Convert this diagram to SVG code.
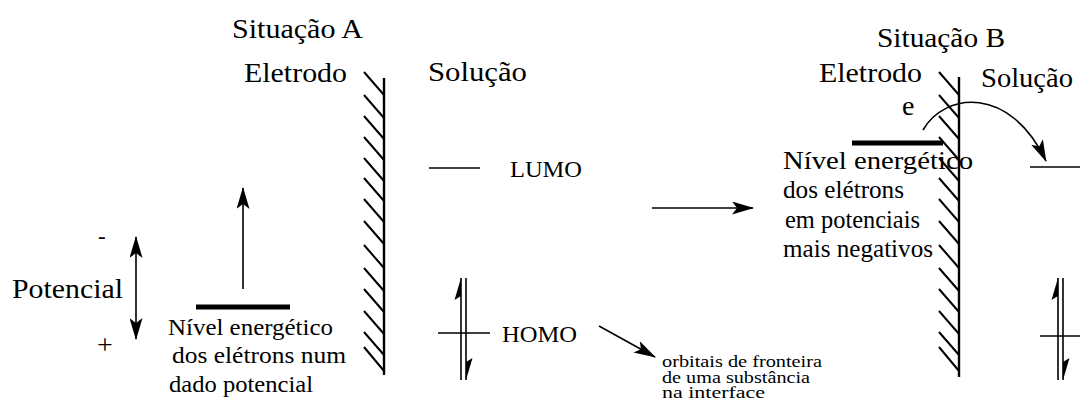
<svg xmlns="http://www.w3.org/2000/svg" width="1080" height="414" viewBox="0 0 1080 414">
<style>
text{font-family:"Liberation Serif","Times New Roman","DejaVu Serif",serif;fill:#000}
.big{font-size:28px}
.mid{font-size:23px}
.nb{font-size:26px}
.sm{font-size:16px}
.ln{stroke:#000;stroke-width:1.6;fill:none}
.bar{stroke:#000;stroke-width:5;fill:none}
.wall{stroke:#000;stroke-width:2.4;fill:none}
.hatch{stroke:#000;stroke-width:2;fill:none}
.hd{fill:#000;stroke:none}
</style>
<defs>
<marker id="ah" viewBox="0 0 22 13" refX="21" refY="6.5" markerWidth="22" markerHeight="13" markerUnits="userSpaceOnUse" orient="auto-start-reverse">
<path d="M0,0 L22,6.5 L0,13 L5,6.5 Z" class="hd"/>
</marker>
<path id="hatchset" d="M-20,72 l20,23 M-20,95 l20,23 M-20,116 l20,23 M-20,137 l20,23 M-20,158 l20,23 M-20,178 l20,23 M-20,199 l20,23 M-20,221 l20,23 M-20,245 l20,23 M-20,268 l20,23 M-20,289 l20,23 M-20,311 l20,23 M-20,332 l20,23 M-20,347 l20,24"/>
<g id="homo">
<line x1="-2.5" y1="0" x2="-2.5" y2="102" class="ln"/>
<line x1="2.5" y1="0" x2="2.5" y2="102" class="ln"/>
<polygon points="-2.5,0 -9,22 -2.5,18" class="hd"/>
<polygon points="2.5,102 9,80 2.5,84" class="hd"/>
</g>
</defs>

<g id="situacao-a">
<text class="big" x="232" y="38" textLength="131" lengthAdjust="spacingAndGlyphs">Situação A</text>
<text class="big" x="244" y="82" textLength="103" lengthAdjust="spacingAndGlyphs">Eletrodo</text>
<text class="big" x="428" y="81" textLength="99" lengthAdjust="spacingAndGlyphs">Solução</text>
</g>

<g id="eletrodo-a">
<line x1="384" y1="78" x2="384" y2="375" class="wall"/>
<use href="#hatchset" transform="translate(384,0)" class="hatch"/>
</g>

<g id="potencial">
<text class="big" x="12" y="298" textLength="111" lengthAdjust="spacingAndGlyphs">Potencial</text>
<text class="mid" x="98" y="244">-</text>
<text class="big" x="97" y="354">+</text>
</g>

<g id="nivel-a">
<line x1="196" y1="307" x2="290" y2="307" class="bar"/>
<text class="mid" x="168" y="335" textLength="165" lengthAdjust="spacingAndGlyphs">Nível energético</text>
<text class="mid" x="172" y="363" textLength="174" lengthAdjust="spacingAndGlyphs">dos elétrons num</text>
<text class="mid" x="169" y="392" textLength="144" lengthAdjust="spacingAndGlyphs">dado potencial</text>
</g>

<g id="lumo-a">
<line x1="429" y1="168" x2="480" y2="168" class="ln"/>
<text class="mid" x="510" y="177" textLength="72" lengthAdjust="spacingAndGlyphs">LUMO</text>
</g>

<g id="homo-a">
<use href="#homo" transform="translate(463.5,278)"/>
<line x1="438" y1="333" x2="490" y2="333" class="ln"/>
<text class="mid" x="502" y="342" textLength="75" lengthAdjust="spacingAndGlyphs">HOMO</text>
</g>

<g id="orbitais">
<text class="sm" x="662" y="367" textLength="160" lengthAdjust="spacingAndGlyphs">orbitais de fronteira</text>
<text class="sm" x="662" y="383" textLength="148" lengthAdjust="spacingAndGlyphs">de uma substância</text>
<text class="sm" x="662" y="398" textLength="103" lengthAdjust="spacingAndGlyphs">na interface</text>
</g>

<g id="situacao-b">
<text class="big" x="877" y="47" textLength="128" lengthAdjust="spacingAndGlyphs">Situação B</text>
<text class="big" x="819" y="82" textLength="103" lengthAdjust="spacingAndGlyphs">Eletrodo</text>
<text class="big" x="981" y="87" textLength="92" lengthAdjust="spacingAndGlyphs">Solução</text>
<text class="big" x="902" y="115">e</text>
</g>

<g id="eletrodo-b">
<line x1="959" y1="77" x2="959" y2="377" class="wall"/>
<use href="#hatchset" transform="translate(959,0)" class="hatch"/>
</g>

<g id="nivel-b">
<line x1="852" y1="143" x2="943" y2="143" class="bar"/>
<text class="nb" x="783" y="169" textLength="190" lengthAdjust="spacingAndGlyphs">Nível energético</text>
<text class="nb" x="783" y="198" textLength="121" lengthAdjust="spacingAndGlyphs">dos elétrons</text>
<text class="nb" x="785" y="228" textLength="135" lengthAdjust="spacingAndGlyphs">em potenciais</text>
<text class="nb" x="783" y="257" textLength="150" lengthAdjust="spacingAndGlyphs">mais negativos</text>
</g>

<g id="lumo-b">
<line x1="1030" y1="167" x2="1080" y2="167" class="ln"/>
</g>

<g id="homo-b">
<use href="#homo" transform="translate(1060.5,278)"/>
<line x1="1040" y1="336" x2="1080" y2="336" class="ln"/>
</g>

<g id="connectors">
<line x1="136" y1="237" x2="136" y2="339" class="ln" marker-start="url(#ah)" marker-end="url(#ah)"/>
<line x1="243" y1="289" x2="243" y2="188" class="ln" marker-end="url(#ah)"/>
<line x1="652" y1="208" x2="753" y2="208" class="ln" marker-end="url(#ah)"/>
<line x1="599" y1="326" x2="655" y2="357" class="ln" marker-end="url(#ah)"/>
<path d="M923,130 C945,92 1010,85 1046,161" class="ln" marker-end="url(#ah)"/>
</g>
</svg>
